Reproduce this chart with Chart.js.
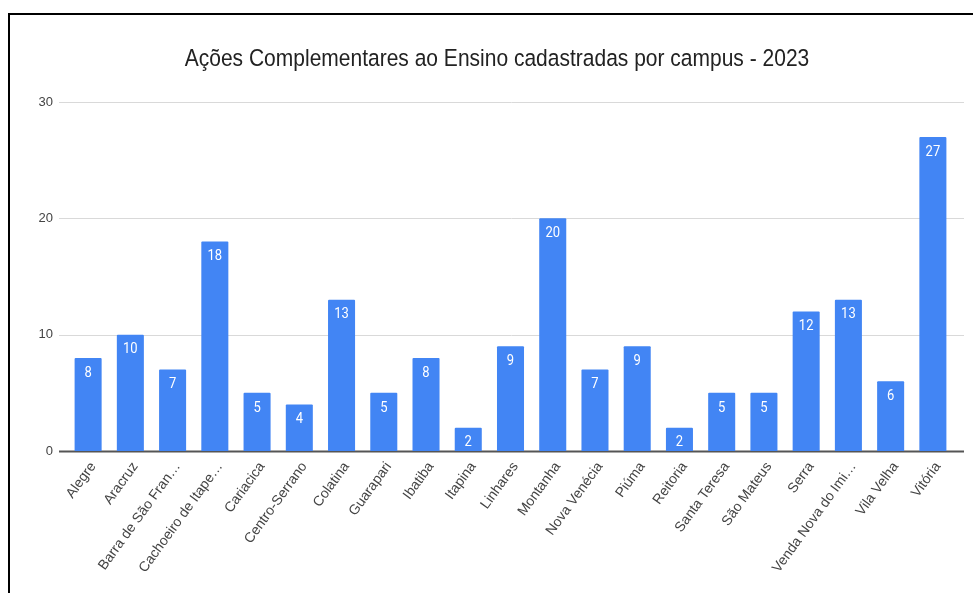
<!DOCTYPE html>
<html>
<head>
<meta charset="utf-8">
<script src="https://cdn.jsdelivr.net/npm/chart.js@4.4.1/dist/chart.umd.min.js"></script>
<style>
  html, body { margin: 0; padding: 0; background: #fff; }
  #wrap { position: relative; width: 973px; height: 593px; overflow: hidden; }
  #frame { position: absolute; left: 8px; top: 13px; right: -10px; bottom: -10px;
           border-left: 2px solid #000; border-top: 2px solid #000; pointer-events: none; }
  canvas { position: absolute; left: 0; top: 0; }
</style>
</head>
<body>
<div id="wrap">
  <canvas id="myChart" width="973" height="593"></canvas>
  <div id="frame"></div>
</div>
<script>
// data
const chartTitle = 'Ações Complementares ao Ensino cadastradas por campus - 2023';
const campusLabels = [
  'Alegre', 'Aracruz', 'Barra de São Fran…', 'Cachoeiro de Itape…', 'Cariacica',
  'Centro-Serrano', 'Colatina', 'Guarapari', 'Ibatiba', 'Itapina', 'Linhares',
  'Montanha', 'Nova Venécia', 'Piúma', 'Reitoria', 'Santa Teresa', 'São Mateus',
  'Serra', 'Venda Nova do Imi…', 'Vila Velha', 'Vitória'
];
const acoesValues = [8, 10, 7, 18, 5, 4, 13, 5, 8, 2, 9, 20, 7, 9, 2, 5, 5, 12, 13, 6, 27];
const yTicks = [0, 10, 20, 30];

const FONT = '"Liberation Sans", Arial, sans-serif';
const STRETCH = 1.13; // the source picture is a little taller than wide

// title drawn by hand so it sits centred on the whole frame
const titlePlugin = {
    id: 'frameTitle',
    afterDraw(chart) {
        const { ctx } = chart;
        ctx.save();
        ctx.fillStyle = '#222';
        ctx.font = '21px ' + FONT;
        ctx.textAlign = 'center';
        ctx.textBaseline = 'middle';
        ctx.translate(497, 59);
        ctx.scale(1, STRETCH);
        ctx.fillText(chartTitle, 0, 0);
        ctx.restore();
    }
};

// horizontal grid lines run a bit past the plot on both sides
const gridPlugin = {
    id: 'wideGrid',
    beforeDatasetsDraw(chart) {
        const { ctx, chartArea, scales } = chart;
        ctx.save();
        yTicks.forEach(v => {
            const y = Math.round(scales.y.getPixelForValue(v)) + 0.5;
            ctx.beginPath();
            ctx.strokeStyle = v === 0 ? '#555' : '#d9d9d9';
            ctx.lineWidth = v === 0 ? 2 : 1;
            ctx.moveTo(chartArea.left - 8, y);
            ctx.lineTo(chartArea.right + 10, y);
            ctx.stroke();
        });
        ctx.restore();
    }
};

// white value inside the top of each bar
const valuePlugin = {
    id: 'barValues',
    afterDatasetsDraw(chart) {
        const { ctx } = chart;
        const meta = chart.getDatasetMeta(0);
        meta.data.forEach((bar, i) => {
            ctx.save();
            ctx.fillStyle = '#fff';
            ctx.font = '13px Roboto, ' + FONT;
            ctx.textAlign = 'center';
            ctx.textBaseline = 'middle';
            ctx.translate(bar.x, bar.y + 15);
            ctx.scale(1, STRETCH);
            ctx.fillText(String(acoesValues[i]), 0, 0);
            ctx.restore();
        });
    }
};

new Chart(document.getElementById('myChart'), {
    type: 'bar',
    data: {
        labels: campusLabels,
        datasets: [{
            data: acoesValues,
            backgroundColor: '#4285f4',
            barPercentage: 0.64,
            categoryPercentage: 1.0,
            borderRadius: 1
        }]
    },
    options: {
        responsive: false,
        animation: false,
        layout: { padding: { left: 10, right: 19, top: 102, bottom: 0 } },
        plugins: {
            legend: { display: false },
            tooltip: { enabled: false },
            title: { display: false }
        },
        scales: {
            x: {
                grid: { display: false },
                border: { display: false },
                ticks: {
                    color: '#444',
                    font: { family: FONT, size: 14 },
                    minRotation: 54,
                    maxRotation: 54,
                    autoSkip: false,
                    padding: 0,
                    labelOffset: 5
                },
                afterFit(scale) { scale.height = 142; }
            },
            y: {
                min: 0,
                max: 30,
                afterBuildTicks(scale) { scale.ticks = yTicks.map(v => ({ value: v })); },
                grid: { display: false },
                border: { display: false },
                ticks: {
                    color: '#444',
                    font: { family: FONT, size: 13 },
                    padding: 6
                },
                afterFit(scale) { scale.width = 57; }
            }
        }
    },
    plugins: [gridPlugin, valuePlugin, titlePlugin]
});
</script>
</body>
</html>
